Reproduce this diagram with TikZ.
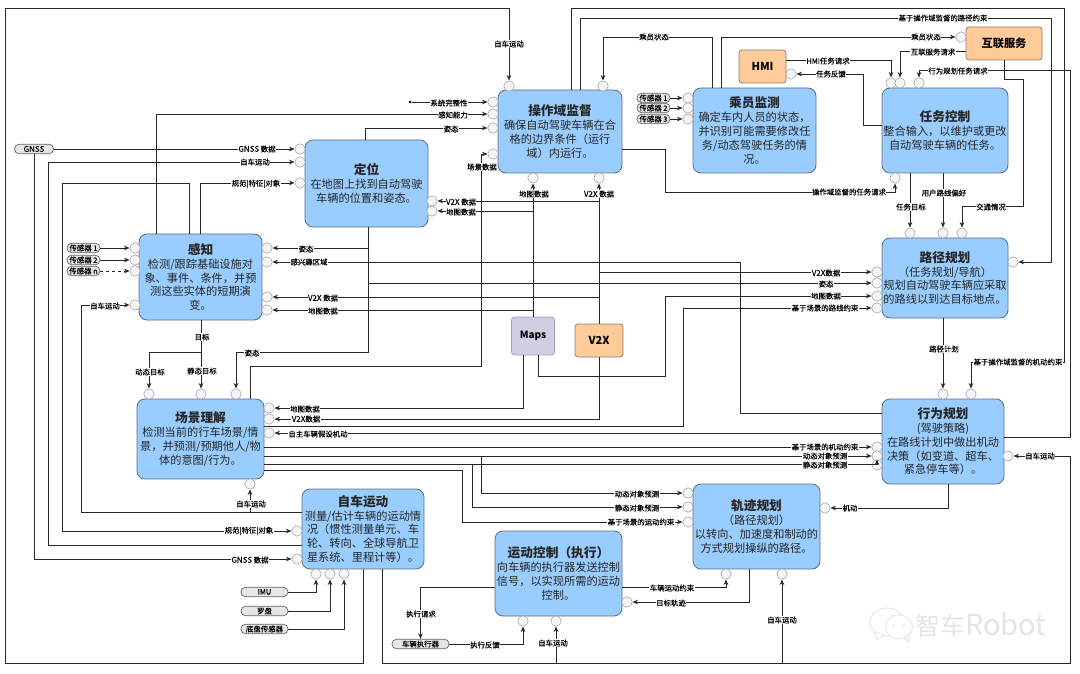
\documentclass[tikz,border=0pt]{standalone}
\usepackage{fontspec}
\setmainfont{Noto Sans CJK SC}
\newfontfamily\labf[FakeBold=0.2]{Noto Sans CJK SC}
\usetikzlibrary{arrows.meta}
\definecolor{boxblue}{HTML}{99CCFF}
\definecolor{boxedge}{HTML}{5B6F85}
\definecolor{boxorange}{HTML}{FFCC99}
\definecolor{orangeedge}{HTML}{8F7F6C}
\definecolor{boxlilac}{HTML}{D0CEE2}
\definecolor{lilacedge}{HTML}{A09DC0}
\definecolor{portfill}{HTML}{F5F5F5}
\definecolor{portedge}{HTML}{A6A6A6}
\definecolor{pillfill}{HTML}{E6E6E6}
\definecolor{pilledge}{HTML}{666666}
\definecolor{wmgray}{HTML}{E4E4E4}
\newcommand{\ttl}{\bfseries\fontsize{12.7}{14}\selectfont}
\newcommand{\lat}[1]{{\fontsize{8}{8}\selectfont #1}}
\tikzset{
  bx/.style={draw=boxedge,fill=boxblue,line width=0.8pt,rounded corners=8pt,inner sep=0pt,align=center,
    text=black!85,font=\fontsize{11.2}{13.8}\selectfont},
  ext/.style={draw=orangeedge,fill=boxorange,line width=0.8pt,rounded corners=3pt,inner sep=0pt,align=center,
    font=\bfseries\fontsize{11}{13}\selectfont},
  mapsbox/.style={draw=lilacedge,fill=boxlilac,line width=0.8pt,rounded corners=3pt,inner sep=0pt,
    font=\bfseries\fontsize{10}{11}\selectfont},
  porta/.style={circle,draw=portedge,fill=portfill,line width=0.6pt,minimum size=10.4pt,inner sep=0pt},
  pill/.style={draw=pilledge,fill=pillfill,line width=0.7pt,rounded corners=4.6pt,inner sep=0pt,
    minimum height=9.6pt,font=\labf\fontsize{7.4}{8}\selectfont},
  lab/.style={fill=white,inner sep=0.4pt,font=\labf\fontsize{7.4}{8}\selectfont},
  conn/.style={draw=black!85,line width=0.9pt,-{Stealth[length=5.5pt,width=4.6pt]}},
  plain/.style={draw=black!85,line width=0.9pt},
}
\begin{document}
\begin{tikzpicture}[x=1pt,y=-1pt]
\useasboundingbox (0,0) rectangle (1080,674);
% ---------- main boxes
\node[bx,minimum width=124pt,minimum height=83pt] (odd) at (560,131.5) {{\ttl 操作域监督}\\确保自动驾驶车辆在合\\格的边界条件（运行\\域）内运行。};
\node[bx,minimum width=123pt,minimum height=87pt] (loc) at (366.5,183.5) {{\ttl 定位}\\在地图上找到自动驾驶\\车辆的位置和姿态。};
\node[bx,minimum width=123pt,minimum height=85pt] (occ) at (754.5,130.5) {{\ttl 乘员监测}\\确定车内人员的状态，\\并识别可能需要修改任\\务/动态驾驶任务的情\\况。};
\node[bx,minimum width=126pt,minimum height=85pt] (mis) at (945,130.5) {{\ttl 任务控制}\\整合输入，以维护或更改\\自动驾驶车辆的任务。};
\node[bx,minimum width=126pt,minimum height=80pt] (rou) at (945,278) {{\ttl 路径规划}\\（任务规划/导航）\\规划自动驾驶车辆应采取\\的路线以到达目标地点。};
\node[bx,minimum width=122pt,minimum height=85pt] (beh) at (943,441.5) {{\ttl 行为规划}\\(驾驶策略)\\在路线计划中做出机动\\决策（如变道、超车、\\紧急停车等）。};
\node[bx,minimum width=123pt,minimum height=86pt] (per) at (200.5,277) {{\ttl 感知}\\检测/跟踪基础设施对\\象、事件、条件，并预\\测这些实体的短期演\\变。};
\node[bx,minimum width=127pt,minimum height=80pt] (sce) at (200.5,439) {{\ttl 场景理解}\\检测当前的行车场景/情\\景，并预测/预期他人/物\\体的意图/行为。};
\node[bx,minimum width=122pt,minimum height=80pt] (ego) at (363,529) {{\ttl 自车运动}\\测量/估计车辆的运动情\\况（惯性测量单元、车\\轮、转向、全球导航卫\\星系统、里程计等）。};
\node[bx,minimum width=127pt,minimum height=85pt] (mot) at (558.5,573.5) {{\ttl 运动控制（执行）}\\向车辆的执行器发送控制\\信号，以实现所需的运动\\控制。};
\node[bx,minimum width=127pt,minimum height=85pt] (tra) at (756.5,526.5) {{\ttl 轨迹规划}\\（路径规划）\\以转向、加速度和制动的\\方式规划操纵的路径。};
% ---------- external boxes
\node[ext,minimum width=76pt,minimum height=33pt,font=\bfseries\fontsize{11.2}{14}\selectfont] (cloud) at (1004,43.5) {互联服务};
\node[ext,minimum width=47pt,minimum height=33pt] (hmi) at (762.5,66.5) {HMI};
\node[mapsbox,minimum width=43pt,minimum height=38pt] (maps) at (533,336) {Maps};
\node[ext,minimum width=48pt,minimum height=33pt,font=\bfseries\fontsize{11}{13}\selectfont] (vtx) at (599,340.5) {V2X};
% ---------- pills
\node[pill,minimum width=39pt] (gnss) at (34,149) {\lat{GNSS}};
\node[pill,minimum width=33pt] (sa) at (83.5,248) {传感器 1};
\node[pill,minimum width=33pt] (sb) at (83.5,260) {传感器 2};
\node[pill,minimum width=33pt] (sc) at (83.5,271) {传感器 n};
\node[pill,minimum width=33pt] (oa) at (653.5,98) {传感器 1};
\node[pill,minimum width=33pt] (ob) at (653.5,108) {传感器 2};
\node[pill,minimum width=33pt] (oc) at (653.5,119) {传感器 3};
\node[pill,minimum width=47pt] (imu) at (264.5,592) {IMU};
\node[pill,minimum width=47pt] (comp) at (264.5,611) {罗盘};
\node[pill,minimum width=47pt] (chas) at (264.5,629) {底盘传感器};
\node[pill,minimum width=57pt] (act) at (420.5,644) {车辆执行器};
\node[circle,fill=black,minimum size=3pt,inner sep=0pt] (dot) at (410,102) {};
% ---------- ports
\foreach \n/\x/\y in {oTa/509/86,oTb/603/86,oLa/493/102,oLb/493/114,oLc/493/128,oLd/493/154,oBa/533/178,oBb/599/178,
  lLa/300/149,lLb/300/162,lLc/300/183,lRa/432/201,lRb/432/211,
  cLa/688/98,cLb/688/108,cLc/688/119,hR/791/74,nL/961/37,
  msTa/891/83,msTb/900/83,msTc/919/83,msB/895/178,
  rTa/910/233,rTb/943/233,rTc/962/233,rLa/877/272,rLb/877/283,rLc/877/296,rLd/877/308,rR/1013/262,
  bTa/943/394,bTb/971/394,bLa/877/447,bLb/877/456,bLc/877/465,bR/1008/456,
  pLa/135/248,pLb/135/260,pLc/135/271,pLd/135/305,pRa/267/248,pRb/267/262,pRc/267/297,pRd/267/310,
  sTa/149/394,sTb/201/394,sTc/236/394,sRa/269/408,sRb/269/419,sRc/269/433,sB/250/484,
  eLa/297/531,eLb/297/559,eBa/316/574,eBb/330/574,eBc/344/574,
  tLa/688/493,tLb/688/507,tLc/688/522,tBa/726/574,tBb/782/574,tR/825/508,
  mtR/627/602,mtBa/523/621,mtBb/556/621}{
  \node[porta] (\n) at (\x,\y) {};
}
% ---------- junctions
\coordinate (jVa) at (599,201);
\coordinate (jMa) at (533,211);
\coordinate (jVb) at (599,272);
\coordinate (jVc) at (599,297);
\coordinate (jMb) at (533,310);
\coordinate (jPa) at (368,248);
\coordinate (jPb) at (368,283);
\coordinate (jDa) at (481,456);
\coordinate (jSa) at (472,464);
\coordinate (jEa) at (556,663);
\coordinate (jEb) at (782,663);
\coordinate (jEc) at (250,512);
\coordinate (jT) at (201,352);
% ---------- connectors
\draw[conn] (ego.south -| 363,0) -- (363,663) -- (5,663) -- (5,8) -- (509,8) -- (oTa);
\draw[conn] (gnss.east) -- (lLa);
\draw[conn] (gnss.south) -- (34,559) -- (eLb);
\draw[conn] (ego.west |- 0,545) -- (48,545) -- (48,162) -- (lLb);
\draw[conn] (per.north -| 189,0) -- (189,183) -- (62,183) -- (62,531) -- (eLa);
\draw[conn] (per.north -| 200,0) -- (200,183) -- (lLc);
\draw[conn] (per.north -| 156,0) -- (156,114) -- (oLb);
\draw[conn] (dot) -- (oLa);
\draw[conn] (loc.north -| 365,0) -- (365,128) -- (oLc);
\draw[conn] (sce.north -| 250,0) -- (250,366) -- (481,366) -- (481,154) -- (oLd);
\draw[conn] (vtx.north) -- (oBb);
\draw[conn] (maps.north) -- (oBa);
\draw[conn] (jVa) -- (lRa);
\draw[conn] (jMa) -- (lRb);
\draw[conn] (jVb) -- (rLa);
\draw[conn] (jVc) -- (pRc);
\draw[conn] (jMb) -- (pRd);
\draw[conn] (loc.south -| 368,0) -- (368,352) -- (236,352) -- (sTc);
\draw[conn] (jPa) -- (pRa);
\draw[conn] (jPb) -- (rLb);
\draw[conn] (beh.west |- 0,413) -- (740,413) -- (740,262) -- (pRb);
\draw[conn] (maps.south -| 538,0) -- (538,376) -- (665,376) -- (665,296) -- (rLc);
\draw[conn] (maps.south -| 523,0) -- (523,408) -- (sRa);
\draw[conn] (vtx.south) -- (599,419) -- (sRb);
\draw[conn] (sce.east |- 0,426) -- (683,426) -- (683,308) -- (rLd);
\draw[conn] (beh.west |- 0,433) -- (sRc);
\draw[conn] (sce.east |- 0,447) -- (bLa);
\draw[conn] (sce.east |- 0,456) -- (bLb);
\draw[conn] (sce.east |- 0,464) -- (877,464) -- (bLc);
\draw[conn] (jDa) -- (481,493) -- (tLa);
\draw[conn] (jSa) -- (472,507) -- (tLb);
\draw[conn] (sce.east |- 0,470) -- (462,470) -- (462,522) -- (tLc);
\draw[conn] (beh.south -| 948,0) -- (948,508) -- (tR);
\draw[conn] (mot.east |- 0,587) -- (726,587) -- (tBa);
\draw[conn] (tra.south -| 749,0) -- (749,602) -- (mtR);
\draw[conn] (mot.west |- 0,587) -- (420.5,587) -- (act.north);
\draw[conn] (act.east) -- (523,644) -- (mtBa);
\draw[conn] (ego.south -| 382,0) -- (382,663) -- (1070,663) -- (1070,456) -- (bR);
\draw[conn] (jEa) -- (mtBb);
\draw[conn] (jEb) -- (tBb);
\draw[conn] (imu.east) -- (316,592) -- (eBa);
\draw[conn] (comp.east) -- (330,611) -- (eBb);
\draw[conn] (chas.east) -- (344,629) -- (eBc);
\draw[conn] (ego.west |- 0,512) -- (81,512) -- (81,305) -- (pLd);
\draw[conn] (jEc) -- (sB);
\draw[conn] (per.south -| 201,0) -- (sTb);
\draw[conn] (jT) -- (149,352) -- (sTa);
\draw[conn] (sa) -- (pLa);
\draw[conn] (sb) -- (pLb);
\draw[conn,dashed] (sc) -- (pLc);
\draw[conn] (oa) -- (cLa);
\draw[conn] (ob) -- (cLb);
\draw[conn] (oc) -- (cLc);
\draw[conn] (occ.north -| 712,0) -- (712,37) -- (603,37) -- (oTb);
\draw[conn] (occ.north -| 721,0) -- (721,37) -- (nL);
\draw[conn] (odd.north -| 571,0) -- (571,8) -- (1064,8) -- (1064,362) -- (971,362) -- (bTb);
\draw[conn] (odd.north -| 580,0) -- (580,18) -- (1051,18) -- (1051,262) -- (rR);
\draw[conn] (odd.east |- 0,149) -- (665,149) -- (665,192) -- (895,192) -- (msB);
\draw[conn] (beh.east |- 0,437) -- (1070,437) -- (1070,70) -- (919,70) -- (msTc);
\draw[conn] (cloud.west |- 0,51) -- (900,51) -- (msTb);
\draw[conn] (hmi.east |- 0,60) -- (891,60) -- (msTa);
\draw[conn] (mis.west |- 0,125) -- (863,125) -- (863,74) -- (hR);
\draw[conn] (cloud.south) -- (1004,79) -- (1023,79) -- (1023,206) -- (962,206) -- (rTc);
\draw[conn] (mis.south -| 910,0) -- (rTa);
\draw[conn] (mis.south -| 943,0) -- (rTb);
\draw[conn] (rou.south -| 943,0) -- (bTa);
% ---------- labels
\node[lab] (la) at (509,44) {自车运动};
\node[lab] (lb) at (449,103) {系统完整性};
\node[lab] (lc) at (453,115) {感知能力};
\node[lab] (ld) at (451,129) {姿态};
\node[lab] (le) at (482,167) {场景数据};
\node[lab] (lf) at (534,194) {地图数据};
\node[lab] (lg) at (599,194) {\lat{V2X} 数据};
\node[lab] (lh) at (461,202) {\lat{V2X} 数据};
\node[lab] (li) at (461,212) {地图数据};
\node[lab] (lj) at (654,37) {乘员状态};
\node[lab] (lk) at (926,37) {乘员状态};
\node[lab] (ll) at (943,18) {基于操作域监督的路径约束};
\node[lab] (lm) at (933,52) {互联服务请求};
\node[lab] (ln) at (828,61) {HMI任务请求};
\node[lab] (lo) at (831,74) {任务反馈};
\node[lab] (lp) at (958,71) {行为规划任务请求};
\node[lab] (lq) at (849,192) {操作域监督的任务请求};
\node[lab] (lr) at (944,193) {用户路线偏好};
\node[lab] (ls) at (911,207) {任务目标};
\node[lab] (lt) at (991,207) {交通情况};
\node[lab] (lu) at (257,149) {\lat{GNSS} 数据};
\node[lab] (lv) at (255,162) {自车运动};
\node[lab] (lw) at (256,184) {规范|特征|对象};
\node[lab] (lx) at (306,249) {姿态};
\node[lab] (ly) at (309,262) {感兴趣区域};
\node[lab] (lz) at (323,298) {\lat{V2X} 数据};
\node[lab] (maa) at (323,311) {地图数据};
\node[lab] (mab) at (105,306) {自车运动};
\node[lab] (mac) at (202,337) {目标};
\node[lab] (mad) at (150,372) {动态目标};
\node[lab] (mae) at (202,371) {静态目标};
\node[lab] (maf) at (252,353) {姿态};
\node[lab] (mag) at (305,409) {地图数据};
\node[lab] (mah) at (306,419) {\lat{V2X}数据};
\node[lab] (mai) at (318,434) {自主车辆假设机动};
\node[lab] (maj) at (826,273) {\lat{V2X}数据};
\node[lab] (mak) at (826,284) {姿态};
\node[lab] (mal) at (826,296) {地图数据};
\node[lab] (mam) at (825,308) {基于场景的路线约束};
\node[lab] (man) at (944,349) {路径计划};
\node[lab] (mao) at (1018,362) {基于操作域监督的机动约束};
\node[lab] (map) at (825,447) {基于场景的机动约束};
\node[lab] (maq) at (825,456) {动态对象预测};
\node[lab] (mar) at (825,465) {静态对象预测};
\node[lab] (mas) at (1040,456) {自车运动};
\node[lab] (mat) at (850,508) {机动};
\node[lab] (mau) at (637,494) {动态对象预测};
\node[lab] (mav) at (637,508) {静态对象预测};
\node[lab] (maw) at (641,522) {基于场景的运动约束};
\node[lab] (max) at (251,504) {自车运动};
\node[lab] (may) at (249,531) {规范|特征|对象};
\node[lab] (maz) at (250,560) {\lat{GNSS} 数据};
\node[lab] (nab) at (672,588) {车辆运动约束};
\node[lab] (nac) at (671,603) {目标轨迹};
\node[lab] (nad) at (421,614) {执行请求};
\node[lab] (nae) at (485,645) {执行反馈};
\node[lab] (naf) at (553,643) {自车运动};
\node[lab] (nag) at (782,620) {自车运动};
% ---------- watermark
\fill[white,draw=wmgray,line width=0.9pt] (887,622) ellipse (17pt and 14pt);
\fill[white,draw=wmgray,line width=0.9pt] (874,632) -- (877,640) -- (884,635) -- cycle;
\fill[white,draw=wmgray,line width=0.9pt] (899,627) ellipse (13.5pt and 12pt);
\fill[white,draw=wmgray,line width=0.9pt] (904,637) -- (908,642) -- (909,634) -- cycle;
\fill[wmgray] (880,615) circle (1.2pt) (892,615) circle (1.2pt) (894,625) circle (1.2pt) (904,625) circle (1.2pt);
\node[font=\fontsize{25}{27}\selectfont,text=wmgray,anchor=west,inner sep=0pt] (wm) at (915,625) {智车{\fontsize{29}{27}\selectfont Robot}};
\end{tikzpicture}
\end{document}
